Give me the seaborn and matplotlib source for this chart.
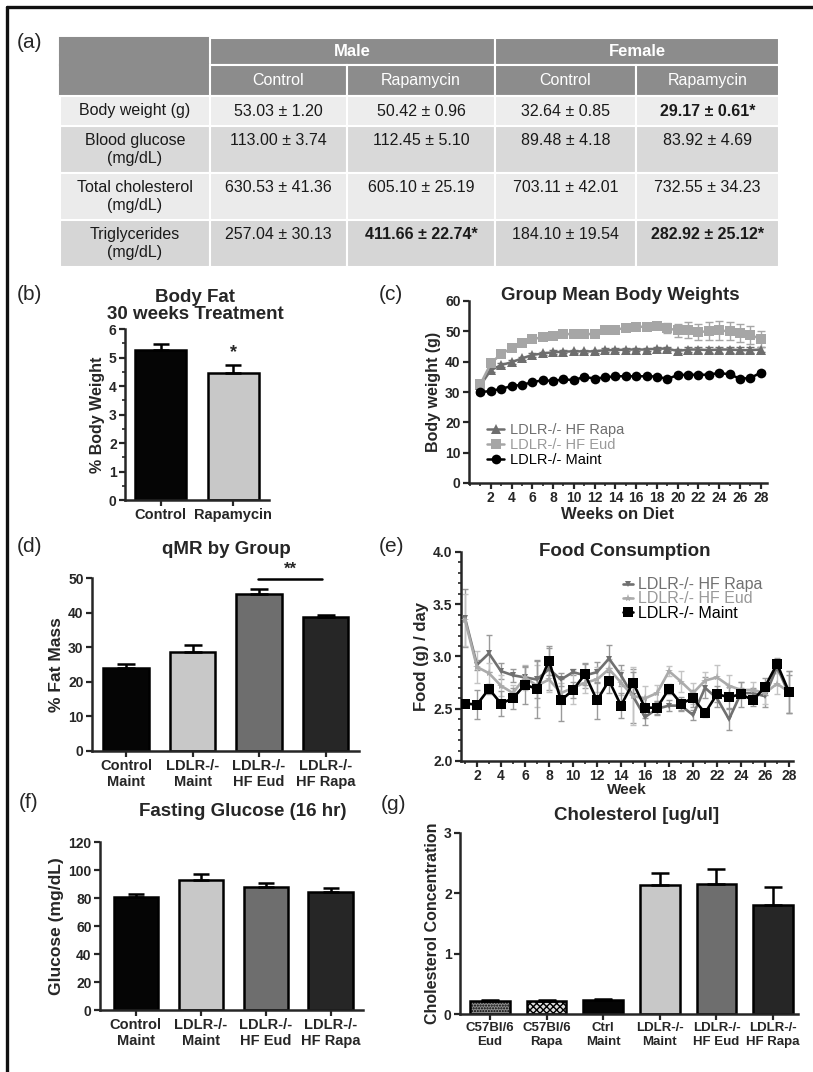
import numpy as np
import pandas as pd
import matplotlib
matplotlib.use("Agg")
import matplotlib.pyplot as plt
import seaborn as sns
from matplotlib.lines import Line2D
from matplotlib.ticker import MultipleLocator

sns.set_style("ticks")
plt.rcParams["font.family"] = ["Liberation Sans", "DejaVu Sans"]
plt.rcParams["axes.linewidth"] = 1.8
plt.rcParams["xtick.major.width"] = 1.6
plt.rcParams["ytick.major.width"] = 1.6
plt.rcParams["xtick.minor.width"] = 1.2
plt.rcParams["ytick.minor.width"] = 1.2

W, H = 813, 1072

# ---------------- data ----------------
# (a) table
sexes = ["Male", "Female"]
treatments = ["Control", "Rapamycin", "Control", "Rapamycin"]
table_rows = ["Body weight (g)", "Blood glucose\n(mg/dL)",
              "Total cholesterol\n(mg/dL)", "Triglycerides\n(mg/dL)"]
male_control = ["53.03 ± 1.20", "113.00 ± 3.74", "630.53 ± 41.36", "257.04 ± 30.13"]
male_rapa = ["50.42 ± 0.96", "112.45 ± 5.10", "605.10 ± 25.19", "411.66 ± 22.74*"]
female_control = ["32.64 ± 0.85", "89.48 ± 4.18", "703.11 ± 42.01", "184.10 ± 19.54"]
female_rapa = ["29.17 ± 0.61*", "83.92 ± 4.69", "732.55 ± 34.23", "282.92 ± 25.12*"]

# (b) body fat
fat_groups = ["Control", "Rapamycin"]
fat_mean = [5.28, 4.47]
fat_sem = [0.20, 0.28]

# (c) group mean body weights
weeks = list(range(1, 29))
bw_rapa = [32.2, 37.2, 38.9, 39.8, 41.1, 42.2, 42.7, 43.1, 43.3, 43.4, 43.4, 43.4, 43.8, 43.8,
           44.0, 44.0, 44.0, 44.3, 44.3, 43.5, 44.0, 44.0, 43.8, 44.0, 44.0, 43.8, 43.8, 44.0]
bw_rapa_sem = [0.5, 0.6, 0.6, 0.6, 0.6, 0.6, 0.6, 0.6, 0.6, 0.6, 0.6, 0.6, 0.6, 0.6,
               0.6, 0.6, 0.6, 0.6, 0.7, 0.8, 0.9, 1.0, 1.0, 1.0, 1.0, 0.9, 0.9, 0.9]
bw_eud = [32.6, 39.4, 42.6, 44.4, 46.3, 47.5, 48.0, 48.3, 49.0, 49.2, 49.0, 49.2, 50.3, 50.5,
          51.2, 51.5, 51.5, 51.7, 51.0, 50.3, 50.5, 49.8, 50.0, 50.3, 50.0, 49.5, 48.8, 47.5]
bw_eud_sem = [0.6, 0.6, 0.6, 0.6, 0.6, 0.6, 0.6, 0.6, 0.6, 0.6, 0.6, 0.6, 0.6, 0.6,
              0.7, 0.8, 0.9, 1.0, 1.6, 2.2, 2.6, 2.6, 3.0, 3.0, 3.0, 3.0, 3.0, 2.6]
bw_maint = [30.0, 30.3, 31.1, 31.9, 32.4, 33.2, 33.9, 33.6, 34.2, 33.9, 35.0, 34.4, 34.8, 35.2,
            35.2, 35.2, 35.2, 35.1, 34.3, 35.6, 35.7, 35.7, 35.7, 36.3, 35.8, 34.4, 34.6, 36.4]
bw_maint_sem = [0.5] * 28
line_groups = ["LDLR-/- HF Rapa", "LDLR-/- HF Eud", "LDLR-/- Maint"]

# (d) qMR by group
group4 = ["Control\nMaint", "LDLR-/-\nMaint", "LDLR-/-\nHF Eud", "LDLR-/-\nHF Rapa"]
qmr_mean = [24.0, 28.5, 45.3, 38.8]
qmr_sem = [1.2, 2.0, 1.5, 0.5]

# (e) food consumption
food_rapa = [3.37, 2.92, 3.03, 2.86, 2.82, 2.80, 2.78, 2.88, 2.78, 2.85, 2.82, 2.85, 2.98, 2.82,
             2.62, 2.42, 2.50, 2.53, 2.53, 2.44, 2.70, 2.60, 2.40, 2.65, 2.65, 2.62, 2.90, 2.64]
food_rapa_sem = [0.28, 0.05, 0.18, 0.08, 0.06, 0.10, 0.18, 0.20, 0.06, 0.03, 0.12, 0.10, 0.13, 0.10,
                 0.26, 0.08, 0.06, 0.05, 0.05, 0.05, 0.10, 0.08, 0.10, 0.05, 0.05, 0.10, 0.06, 0.18]
food_eud = [3.35, 2.90, 2.84, 2.72, 2.65, 2.80, 2.72, 2.78, 2.65, 2.70, 2.75, 2.78, 2.88, 2.75,
            2.62, 2.60, 2.65, 2.86, 2.76, 2.65, 2.77, 2.80, 2.72, 2.68, 2.68, 2.65, 2.74, 2.66]
food_eud_sem = [0.25, 0.15, 0.10, 0.10, 0.08, 0.12, 0.20, 0.12, 0.10, 0.15, 0.10, 0.12, 0.10, 0.12,
                0.28, 0.12, 0.08, 0.05, 0.10, 0.10, 0.08, 0.12, 0.10, 0.08, 0.08, 0.10, 0.10, 0.20]
food_maint = [2.55, 2.54, 2.69, 2.55, 2.60, 2.73, 2.69, 2.96, 2.58, 2.68, 2.83, 2.58, 2.77, 2.53,
              2.75, 2.51, 2.51, 2.69, 2.55, 2.60, 2.46, 2.64, 2.61, 2.64, 2.58, 2.71, 2.93, 2.66]
food_maint_sem = [0.02, 0.14, 0.05, 0.12, 0.10, 0.18, 0.28, 0.14, 0.20, 0.08, 0.10, 0.18, 0.12, 0.12,
                  0.10, 0.10, 0.06, 0.05, 0.06, 0.08, 0.04, 0.08, 0.10, 0.12, 0.05, 0.08, 0.06, 0.20]

# (f) fasting glucose
glucose_mean = [81.0, 93.0, 88.0, 84.0]
glucose_sem = [2.0, 4.5, 3.0, 3.5]

# (g) cholesterol
chol_groups = ["C57Bl/6\nEud", "C57Bl/6\nRapa", "Ctrl\nMaint", "LDLR-/-\nMaint",
               "LDLR-/-\nHF Eud", "LDLR-/-\nHF Rapa"]
chol_mean = [0.22, 0.22, 0.23, 2.14, 2.16, 1.81]
chol_sem = [0.01, 0.01, 0.02, 0.20, 0.25, 0.30]

# ---------------- styles ----------------
c_black, c_light, c_mid, c_dark = "#050505", "#c8c8c8", "#6e6e6e", "#262626"


def box(l, t, r, b):
    return [l / W, 1 - b / H, (r - l) / W, (b - t) / H]


def style_axes(ax):
    sns.despine(ax=ax)
    ax.tick_params(axis="both", which="major", length=4, labelsize=10, pad=2)
    ax.tick_params(axis="both", which="minor", length=2.5)
    for lab in ax.get_xticklabels() + ax.get_yticklabels():
        lab.set_fontweight("bold")


def bar_panel(ax, groups, means, sems, colors, capsize, width=0.7):
    df = pd.DataFrame({"group": groups, "value": means})
    sns.barplot(data=df, x="group", y="value", hue="group", palette=colors,
                width=width, edgecolor="black", linewidth=1.8, errorbar=None,
                legend=False, ax=ax, saturation=1)
    ax.errorbar(np.arange(len(groups)), means, yerr=[np.zeros(len(sems)), sems],
                fmt="none", ecolor="black", elinewidth=1.8, capsize=capsize,
                capthick=1.8, zorder=3)
    ax.set_xlabel("")


fig = plt.figure(figsize=(W / 100, H / 100), dpi=100)

# frame lines of the figure
fig.add_artist(Line2D([7 / W, 1], [1 - 7 / H, 1 - 7 / H], color="#111111", lw=2.4,
                      transform=fig.transFigure))
fig.add_artist(Line2D([7 / W, 7 / W], [0, 1 - 7 / H], color="#111111", lw=2.4,
                      transform=fig.transFigure))

# ---------------- (a) table ----------------
ax_t = fig.add_axes(box(60, 38, 779, 267))
ax_t.axis("off")
col_w = [150, 137, 148, 141, 143]
row_h = [31, 30, 47, 47, 47]
head_h = 27
total_h = head_h + sum(row_h)
narrow = ["Liberation Sans Narrow", "Liberation Sans"]
header_bg = "#8c8c8c"
row_bg = ["#ededed", "#d9d9d9", "#ebebeb", "#d6d6d6"]

top = ax_t.table(cellText=[[""] + sexes], colWidths=[col_w[0], col_w[1] + col_w[2], col_w[3] + col_w[4]],
                 cellLoc="center", bbox=[0, sum(row_h) / total_h, 1, head_h / total_h])
top.auto_set_font_size(False)
for (r, c), cell in top.get_celld().items():
    cell.set_facecolor(header_bg)
    cell.set_edgecolor(header_bg if c == 0 else "white")
    cell.set_linewidth(1.5)
    cell.set_height(head_h)
    cell.get_text().set_color("white")
    cell.get_text().set_fontfamily(narrow)
    cell.get_text().set_fontweight("bold")
    cell.get_text().set_fontsize(12)

body_text = [[""] + treatments]
for i, lab in enumerate(table_rows):
    vals = [male_control[i], male_rapa[i], female_control[i], female_rapa[i]]
    pad = "\n" if "\n" in lab else ""
    body_text.append([lab] + [v + pad for v in vals])

tbl = ax_t.table(cellText=body_text, colWidths=col_w, cellLoc="center",
                 bbox=[0, 0, 1, sum(row_h) / total_h])
tbl.auto_set_font_size(False)
for (r, c), cell in tbl.get_celld().items():
    cell.set_height(row_h[r])
    cell.set_edgecolor("white")
    cell.set_linewidth(1.5)
    txt = cell.get_text()
    txt.set_fontfamily(narrow)
    txt.set_fontsize(11.5)
    txt.set_linespacing(1.3)
    if r == 0:
        cell.set_facecolor(header_bg)
        txt.set_color("white")
        if c == 0:
            cell.set_edgecolor(header_bg)
    else:
        cell.set_facecolor(row_bg[r - 1])
        txt.set_color("#1a1a1a")
        if txt.get_text().strip().endswith("*"):
            txt.set_fontweight("bold")

# ---------------- (b) body fat ----------------
ax_b = fig.add_axes(box(125, 329, 269, 500))
bar_panel(ax_b, fat_groups, fat_mean, fat_sem, [c_black, c_light], capsize=5.5)
ax_b.set_ylim(0, 6)
ax_b.set_xlim(-0.49, 1.49)
ax_b.yaxis.set_major_locator(MultipleLocator(1))
ax_b.yaxis.set_minor_locator(MultipleLocator(0.5))
ax_b.set_ylabel("% Body Weight", fontsize=11.5, fontweight="bold", labelpad=3)
ax_b.text(1, fat_mean[1] + fat_sem[1] + 0.12, "*", ha="center", va="bottom",
          fontsize=13, fontweight="bold")
style_axes(ax_b)
ax_b.tick_params(axis="x", labelsize=10.5)

# ---------------- (c) body weights ----------------
ax_c = fig.add_axes(box(469, 301, 767, 483))
bw_df = pd.DataFrame({
    "week": weeks * 3,
    "weight": bw_rapa + bw_eud + bw_maint,
    "sem": bw_rapa_sem + bw_eud_sem + bw_maint_sem,
    "group": [line_groups[0]] * 28 + [line_groups[1]] * 28 + [line_groups[2]] * 28,
})
c_pal = {line_groups[0]: "#6e6e6e", line_groups[1]: "#a6a6a6", line_groups[2]: "#000000"}
c_mark = {line_groups[0]: "^", line_groups[1]: "s", line_groups[2]: "o"}
sns.lineplot(data=bw_df, x="week", y="weight", hue="group", style="group",
             hue_order=line_groups, style_order=line_groups, palette=c_pal,
             markers=c_mark, dashes=False, markersize=7, linewidth=1.8,
             legend=False, ax=ax_c, zorder=3)
c_lines = list(ax_c.lines)
for ln in c_lines:
    ln.set_markeredgewidth(0)
for g in line_groups:
    sub = bw_df[bw_df["group"] == g]
    ax_c.errorbar(sub["week"], sub["weight"], yerr=sub["sem"], fmt="none",
                  ecolor=c_pal[g], elinewidth=1.0, capsize=3, capthick=1.0, zorder=2)
leg = ax_c.legend(c_lines, line_groups, loc="upper left", bbox_to_anchor=(0.04, 0.36),
                  frameon=False, handlelength=1.2, handletextpad=0.4, labelspacing=0.05,
                  prop={"size": 10.5, "weight": "normal"}, borderaxespad=0)
for txt, g in zip(leg.get_texts(), line_groups):
    txt.set_color(c_pal[g] if g != line_groups[1] else "#9a9a9a")
ax_c.set_xlim(-0.1, 28.6)
ax_c.set_ylim(0, 60)
ax_c.set_xticks(range(2, 29, 2))
ax_c.xaxis.set_minor_locator(MultipleLocator(1))
ax_c.yaxis.set_major_locator(MultipleLocator(10))
ax_c.set_xlabel("Weeks on Diet", fontsize=12, fontweight="bold", labelpad=1)
ax_c.set_ylabel("Body weight (g)", fontsize=11.5, fontweight="bold", labelpad=3)
style_axes(ax_c)

# ---------------- (d) qMR ----------------
ax_d = fig.add_axes(box(92, 578, 359, 751))
bar_panel(ax_d, group4, qmr_mean, qmr_sem, [c_black, c_light, c_mid, c_dark], capsize=6.5, width=0.68)
ax_d.set_ylim(0, 50)
ax_d.set_xlim(-0.51, 3.5)
ax_d.yaxis.set_major_locator(MultipleLocator(10))
ax_d.set_ylabel("% Fat Mass", fontsize=12.5, fontweight="bold", labelpad=3)
ax_d.plot([1.98, 2.95], [49.6, 49.6], color="black", lw=1.8, clip_on=False)
ax_d.text(2.465, 50.3, "**", ha="center", va="bottom", fontsize=12, fontweight="bold")
style_axes(ax_d)
ax_d.tick_params(axis="x", labelsize=10.5)
for lab in ax_d.get_xticklabels():
    lab.set_linespacing(1.15)

# ---------------- (e) food consumption ----------------
ax_e = fig.add_axes(box(461, 552, 793, 761))
food_df = pd.DataFrame({
    "week": weeks * 3,
    "food": food_rapa + food_eud + food_maint,
    "sem": food_rapa_sem + food_eud_sem + food_maint_sem,
    "group": [line_groups[0]] * 28 + [line_groups[1]] * 28 + [line_groups[2]] * 28,
})
e_pal = {line_groups[0]: "#707070", line_groups[1]: "#ababab", line_groups[2]: "#000000"}
e_mark = {line_groups[0]: "v", line_groups[1]: "*", line_groups[2]: "s"}
e_size = {line_groups[0]: 5, line_groups[1]: 6, line_groups[2]: 7}
for g in line_groups:
    sub = food_df[food_df["group"] == g]
    ax_e.errorbar(sub["week"], sub["food"], yerr=sub["sem"], fmt="none",
                  ecolor="#9a9a9a" if g != line_groups[1] else "#c4c4c4",
                  elinewidth=1.0, capsize=2.5, capthick=1.0, zorder=2)
n_before = len(ax_e.lines)
sns.lineplot(data=food_df, x="week", y="food", hue="group", style="group",
             hue_order=line_groups, style_order=line_groups, palette=e_pal,
             markers=e_mark, dashes=False, linewidth=1.9, legend=False, ax=ax_e, zorder=3)
e_lines = list(ax_e.lines[n_before:])
for ln, g in zip(e_lines, line_groups):
    ln.set_markeredgewidth(0)
    ln.set_markersize(e_size[g])
leg = ax_e.legend(e_lines, line_groups, loc="upper left", bbox_to_anchor=(0.47, 0.91),
                  frameon=False, handlelength=0.6, handletextpad=0.3, labelspacing=-0.05,
                  prop={"size": 11.5, "weight": "normal"}, borderaxespad=0)
for txt, g in zip(leg.get_texts(), line_groups):
    txt.set_color(e_pal[g] if g != line_groups[1] else "#999999")
ax_e.set_xlim(0.67, 28.33)
ax_e.set_ylim(2.0, 4.0)
ax_e.set_xticks(range(2, 29, 2))
ax_e.xaxis.set_minor_locator(MultipleLocator(1))
ax_e.yaxis.set_major_locator(MultipleLocator(0.5))
ax_e.yaxis.set_minor_locator(MultipleLocator(0.1))
ax_e.yaxis.set_major_formatter(matplotlib.ticker.FormatStrFormatter("%.1f"))
ax_e.set_xlabel("Week", fontsize=11, fontweight="bold", labelpad=0)
ax_e.set_ylabel("Food (g) / day", fontsize=12, fontweight="bold", labelpad=3)
style_axes(ax_e)

# ---------------- (f) fasting glucose ----------------
ax_f = fig.add_axes(box(100, 842, 363, 1010))
bar_panel(ax_f, group4, glucose_mean, glucose_sem, [c_black, c_light, c_mid, c_dark], capsize=5.5, width=0.68)
ax_f.set_ylim(0, 120)
ax_f.set_xlim(-0.55, 3.5)
ax_f.yaxis.set_major_locator(MultipleLocator(20))
ax_f.set_ylabel("Glucose (mg/dL)", fontsize=12.5, fontweight="bold", labelpad=3)
style_axes(ax_f)
ax_f.tick_params(axis="x", labelsize=10.5)
for lab in ax_f.get_xticklabels():
    lab.set_linespacing(1.15)

# ---------------- (g) cholesterol ----------------
ax_g = fig.add_axes(box(460, 833, 798, 1014))
bar_panel(ax_g, chol_groups, chol_mean, chol_sem,
          ["#8f8f8f", "#dddddd", c_black, c_light, c_mid, c_dark], capsize=6.5)
ax_g.patches[0].set_hatch("......")
ax_g.patches[1].set_hatch("xxxxx")
ax_g.set_ylim(0, 3)
ax_g.set_xlim(-0.53, 5.44)
ax_g.yaxis.set_major_locator(MultipleLocator(1))
ax_g.set_ylabel("Cholesterol Concentration", fontsize=11.5, fontweight="bold", labelpad=3)
style_axes(ax_g)
ax_g.tick_params(axis="x", labelsize=9.5)
for lab in ax_g.get_xticklabels():
    lab.set_linespacing(1.15)

# ---------------- titles & panel letters ----------------
titles = [
    ("Body Fat\n30 weeks Treatment", 195, 306),
    ("Group Mean Body Weights", 620, 296),
    ("qMR by Group", 226, 549),
    ("Food Consumption", 625, 551),
    ("Fasting Glucose (16 hr)", 243, 812),
    ("Cholesterol [ug/ul]", 637, 815),
]
for t, x, y in titles:
    fig.text(x / W, 1 - y / H, t, ha="center", va="center", fontsize=13.5,
             fontweight="bold", linespacing=1.05)

letters = [("(a)", 29, 42), ("(b)", 29, 294), ("(c)", 391, 294), ("(d)", 29, 546),
           ("(e)", 391, 546), ("(f)", 29, 803), ("(g)", 393, 805)]
for t, x, y in letters:
    fig.text(x / W, 1 - y / H, t, ha="center", va="center", fontsize=15)

fig.savefig("out.png", dpi=100)
